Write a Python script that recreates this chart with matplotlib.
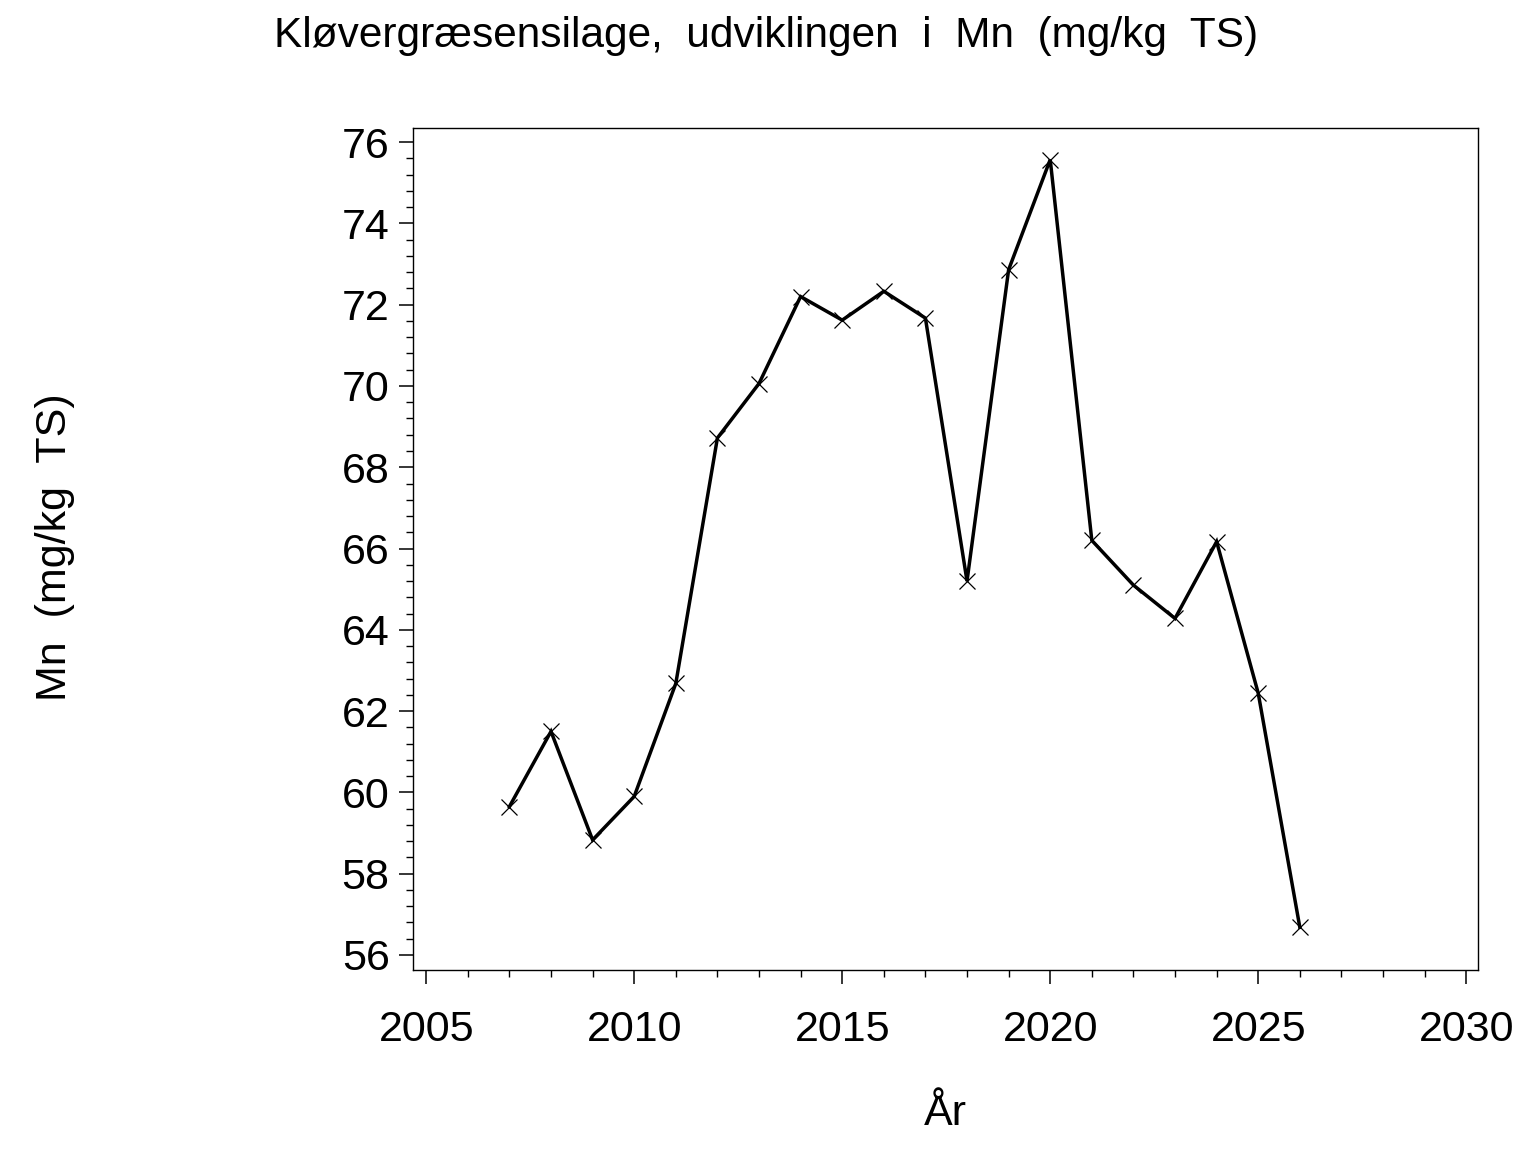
import matplotlib
matplotlib.use("Agg")
import matplotlib.pyplot as plt
from matplotlib.ticker import MultipleLocator

# Mn i kløvergræsensilage (mg/kg TS)
years = [2007, 2008, 2009, 2010, 2011, 2012, 2013, 2014, 2015, 2016,
         2017, 2018, 2019, 2020, 2021, 2022, 2023, 2024, 2025, 2026]
mn_values = [59.65, 61.50, 58.83, 59.90, 62.68, 68.72, 70.06, 72.20, 71.62, 72.33,
             71.67, 65.20, 72.86, 75.57, 66.20, 65.10, 64.28, 66.17, 62.44, 56.68]

x_ticks = [2005, 2010, 2015, 2020, 2025, 2030]
y_ticks = [56, 58, 60, 62, 64, 66, 68, 70, 72, 74, 76]

title = "Kløvergræsensilage,  udviklingen  i  Mn  (mg/kg  TS)"
x_label = "År"
y_label = "Mn  (mg/kg  TS)"

plt.rcParams["font.family"] = ["Liberation Sans", "DejaVu Sans"]

W, H = 1536, 1152
fig = plt.figure(figsize=(W / 100, H / 100), dpi=100)
ax = fig.add_axes([413.3 / W, 1 - 970 / H, (1478.3 - 413.3) / W, (970 - 128.3) / H])

ax.plot(years, mn_values, color="black", linewidth=2.5, solid_joinstyle="miter",
        marker="x", markersize=11.5, markeredgewidth=0.9, markeredgecolor="black")

ax.set_xlim(2004.69, 2030.29)
ax.set_ylim(55.63, 76.34)
ax.set_xticks(x_ticks)
ax.set_yticks(y_ticks)
ax.xaxis.set_minor_locator(MultipleLocator(1))
ax.yaxis.set_minor_locator(MultipleLocator(0.4))

for side in ax.spines.values():
    side.set_linewidth(1.0)

ax.tick_params(axis="both", which="major", direction="out", length=10, width=1.1,
               labelsize=31)
ax.tick_params(axis="both", which="minor", direction="out", length=5.2, width=1.0)
ax.tick_params(axis="x", which="major", pad=19)
ax.tick_params(axis="y", which="major", pad=7)

fig.text(766 / W, 1 - 47 / H, title, ha="center", va="baseline", fontsize=30.5)
fig.text(945.5 / W, 1 - 1125 / H, x_label, ha="center", va="baseline", fontsize=31)
fig.text(55 / W, 1 - 547 / H, y_label, ha="center", va="center", rotation=90,
         fontsize=31)

fig.savefig("out.png", dpi=100)
